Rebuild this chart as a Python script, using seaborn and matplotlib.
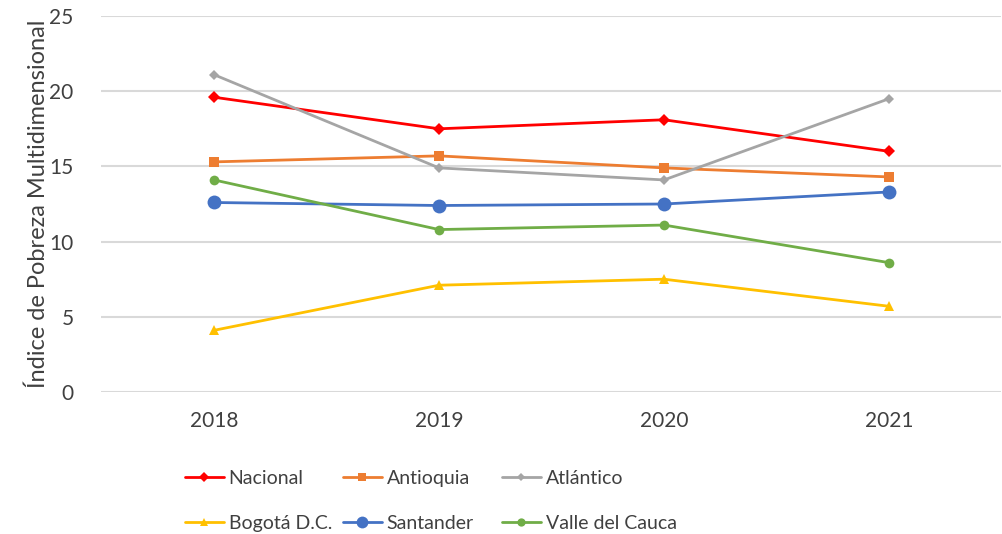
import seaborn as sns
import numpy as np
import pandas as pd
import matplotlib.pyplot as plt
from matplotlib.lines import Line2D

years = ["2018", "2019", "2020", "2021"]
nacional = [19.6, 17.5, 18.1, 16.0]
antioquia = [15.3, 15.7, 14.9, 14.3]
atlantico = [21.1, 14.9, 14.1, 19.5]
bogota = [4.1, 7.1, 7.5, 5.7]
santander = [12.6, 12.4, 12.5, 13.3]
valle = [14.1, 10.8, 11.1, 8.6]

names = ["Nacional", "Antioquia", "Atlántico", "Bogotá D.C.", "Santander", "Valle del Cauca"]
series = [nacional, antioquia, atlantico, bogota, santander, valle]
colors = ["#FF0000", "#ED7D31", "#A5A5A5", "#FFC000", "#4472C4", "#70AD47"]
markers = ["D", "s", "D", "^", "o", "o"]
msizes = [6, 7.5, 5, 7, 10, 7]

sns.set_style("white")
plt.rcParams['font.family'] = ['Lato', 'DejaVu Sans']
txt = "#404040"

rows = []
for n, vals in zip(names, series):
    for i, v in enumerate(vals):
        rows.append({"serie": n, "pos": i, "valor": v})
df = pd.DataFrame(rows)

fig = plt.figure(figsize=(10.03, 5.34), dpi=100)
ax = fig.add_axes([101.5 / 1003, 1 - 392 / 534, 900 / 1003, 376 / 534])

for n, c, m, ms in zip(names, colors, markers, msizes):
    sub = df[df["serie"] == n]
    sns.lineplot(data=sub, x="pos", y="valor", ax=ax, color=c, marker=m,
                 markersize=ms, markeredgewidth=0, linewidth=2, label=n, legend=False)

ax.set_xlim(-0.5, 3.5)
ax.set_ylim(0, 25)
ax.set_yticks([0, 5, 10, 15, 20, 25])
ax.set_xticks(range(len(years)))
ax.set_xticklabels(years)
ax.yaxis.grid(True, color="#D9D9D9", linewidth=1.5)
ax.set_axisbelow(True)
for s in ax.spines.values():
    s.set_visible(False)
ax.tick_params(axis="both", length=0, labelsize=15, colors=txt)
ax.tick_params(axis="y", pad=20)
ax.tick_params(axis="x", pad=14)
ax.set_xlabel("")
ax.set_ylabel("Índice de Pobreza Multidimensional", fontsize=17, color=txt, labelpad=0)

handles = [Line2D([], [], color=c, marker=m, markersize=ms * 0.85, markeredgewidth=0, linewidth=2)
           for c, m, ms in zip(colors, markers, msizes)]
col_x = [185, 343, 502]
for k in range(3):
    leg = fig.legend([handles[k], handles[k + 3]], [names[k], names[k + 3]],
                     loc="upper left", bbox_to_anchor=(col_x[k] / 1003, 1 - 470 / 534),
                     frameon=False, fontsize=14, handlelength=2.0, handletextpad=0.25,
                     labelspacing=1.45, borderpad=0, borderaxespad=0)
    for t in leg.get_texts():
        t.set_color(txt)

fig.savefig("out.png", dpi=100)
